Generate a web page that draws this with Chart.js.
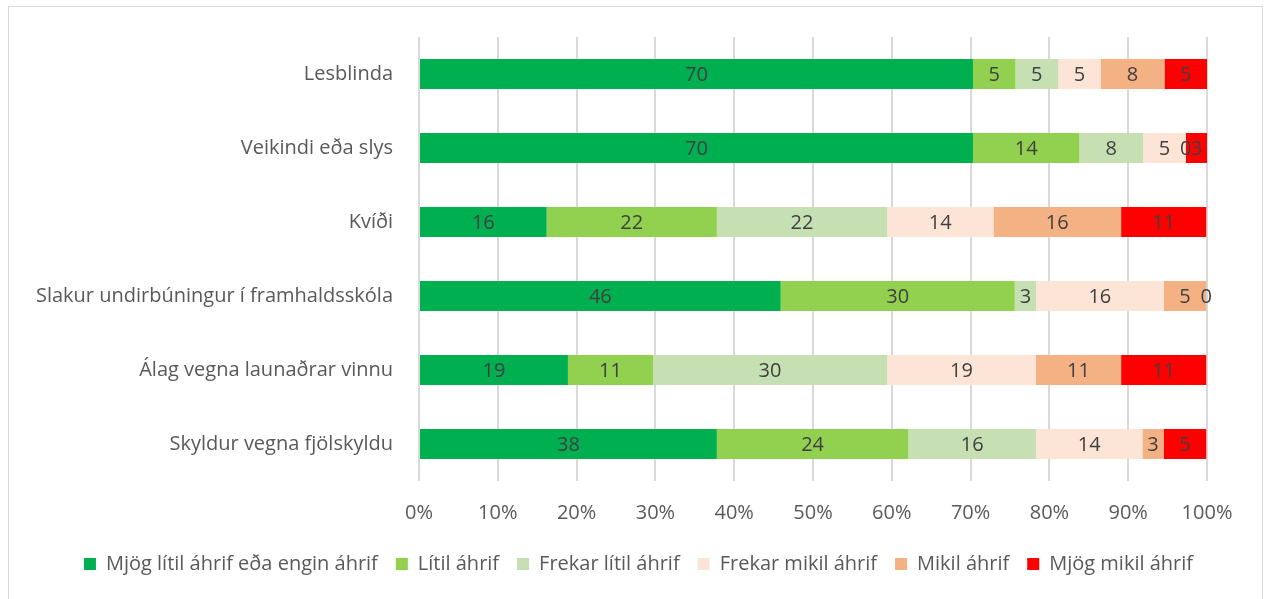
<!DOCTYPE html>
<html>
<head>
<meta charset="utf-8">
<script src="https://cdn.jsdelivr.net/npm/chart.js@4/dist/chart.umd.min.js"></script>
<style>
  body { margin: 0; background: #fff; }
  #frame { position: absolute; left: 8px; top: 6px; width: 1253px; height: 600px; border: 1px solid #d9d9d9; }
  #wrap { position: absolute; left: 0; top: 0; width: 1266px; height: 599px; }
</style>
</head>
<body>
<div id="frame"></div>
<div id="wrap"><canvas id="chart" width="1266" height="599"></canvas></div>
<script>
// categories (top to bottom)
var categories = ["Lesblinda", "Veikindi eða slys", "Kvíði", "Slakur undirbúningur í framhaldsskóla", "Álag vegna launaðrar vinnu", "Skyldur vegna fjölskyldu"];

// series names
var seriesNames = ["Mjög lítil áhrif eða engin áhrif", "Lítil áhrif", "Frekar lítil áhrif", "Frekar mikil áhrif", "Mikil áhrif", "Mjög mikil áhrif"];
var seriesColors = ["#00b050", "#92d050", "#c6e0b4", "#fce4d6", "#f4b183", "#ff0000"];

// percentages per series, one value per category
var mjogLitil   = [70.3, 70.3, 16.2, 45.9, 18.9, 37.8];
var litil       = [5.4, 13.5, 21.6, 29.7, 10.8, 24.3];
var frekarLitil = [5.4, 8.1, 21.6, 2.7, 29.7, 16.2];
var frekarMikil = [5.4, 5.4, 13.5, 16.2, 18.9, 13.5];
var mikil       = [8.1, 0, 16.2, 5.4, 10.8, 2.7];
var mjogMikil   = [5.4, 2.7, 10.8, 0, 10.8, 5.4];

var xTicks = [0, 10, 20, 30, 40, 50, 60, 70, 80, 90, 100];

var seriesValues = [mjogLitil, litil, frekarLitil, frekarMikil, mikil, mjogMikil];
var fontFamily = "'Open Sans', sans-serif";
var fontSize = 20;

var datasets = [];
for (var i = 0; i < seriesNames.length; i++) {
    datasets.push({
        label: seriesNames[i],
        data: seriesValues[i],
        backgroundColor: seriesColors[i],
        borderWidth: 0,
        barPercentage: 0.81,
        categoryPercentage: 0.5
    });
}

// draws the value inside every segment
var segmentLabels = {
    id: "segmentLabels",
    afterDatasetsDraw: function(chart) {
        var ctx = chart.ctx;
        ctx.save();
        ctx.font = fontSize + "px " + fontFamily;
        ctx.fillStyle = "#404040";
        ctx.textAlign = "center";
        ctx.textBaseline = "middle";
        chart.data.datasets.forEach(function(ds, di) {
            var meta = chart.getDatasetMeta(di);
            meta.data.forEach(function(el, idx) {
                var v = ds.data[idx];
                ctx.fillText(String(Math.round(v)), (el.x + el.base) / 2, el.y + 1);
            });
        });
        ctx.restore();
    }
};

// legend is centred on the whole canvas, not only left of the right padding
var legendShift = {
    id: "legendShift",
    afterLayout: function(chart) {
        chart.legend.left += 35;
        chart.legend.right += 35;
    }
};

new Chart(document.getElementById("chart"), {
    type: "bar",
    data: { labels: categories, datasets: datasets },
    plugins: [segmentLabels, legendShift],
    options: {
        indexAxis: "y",
        responsive: false,
        animation: false,
        layout: { padding: { top: 37, right: 59, bottom: 15, left: 0 } },
        scales: {
            x: {
                stacked: true,
                min: 0,
                max: 100,
                afterBuildTicks: function(scale) {
                    scale.ticks = xTicks.map(function(v) { return { value: v }; });
                },
                afterFit: function(scale) { scale.height = 55; },
                grid: { color: "#d9d9d9", lineWidth: 2, drawTicks: false },
                border: { display: false },
                ticks: {
                    padding: 20,
                    color: "#595959",
                    font: { family: fontFamily, size: fontSize },
                    callback: function(v) { return v + "%"; }
                }
            },
            y: {
                stacked: true,
                afterFit: function(scale) { scale.width = 419; },
                grid: { display: false },
                border: { display: false },
                ticks: {
                    padding: 18,
                    color: "#595959",
                    font: { family: fontFamily, size: fontSize }
                }
            }
        },
        plugins: {
            legend: {
                position: "bottom",
                labels: {
                    boxWidth: 12,
                    boxHeight: 12,
                    padding: 18,
                    color: "#595959",
                    font: { family: fontFamily, size: fontSize }
                }
            },
            tooltip: { enabled: false }
        }
    }
});
</script>
</body>
</html>
